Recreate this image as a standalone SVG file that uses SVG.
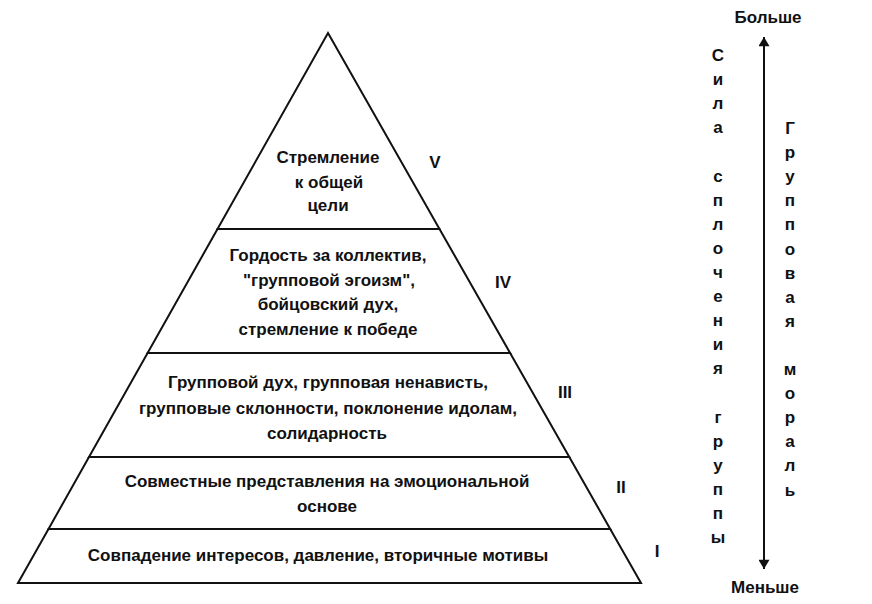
<svg xmlns="http://www.w3.org/2000/svg" width="872" height="604" viewBox="0 0 872 604">
<style>
  .tier { fill: #ffffff; stroke: #111; stroke-width: 2; stroke-linejoin: miter; }
  text { font-family: "Liberation Sans", Arial, sans-serif; font-weight: bold; font-size: 17px; fill: #111; }
  .c { text-anchor: middle; }
  .axis { stroke: #111; stroke-width: 2; fill: none; }
</style>
<defs>
  <marker id="ah" viewBox="0 0 10 12" refX="10" refY="6" markerUnits="userSpaceOnUse" markerWidth="12" markerHeight="11" orient="auto-start-reverse">
    <path d="M0,0 L10,6 L0,12 z" fill="#111"/>
  </marker>
</defs>
<rect width="872" height="604" fill="#ffffff"/>

<g id="level-I">
  <polygon class="tier" points="48.5,529 610.2,529 641,583 18,583"/>
  <text class="c" x="318" y="561">Совпадение интересов, давление, вторичные мотивы</text>
  <text class="c" x="657" y="557">I</text>
</g>
<g id="level-II">
  <polygon class="tier" points="89,457 569.3,457 610.2,529 48.5,529"/>
  <text class="c" x="327" y="487">Совместные представления на эмоциональной</text>
  <text class="c" x="327" y="512">основе</text>
  <text class="c" x="621" y="493">II</text>
</g>
<g id="level-III">
  <polygon class="tier" points="147.6,353 510.1,353 569.3,457 89,457"/>
  <text class="c" x="328" y="388">Групповой дух, групповая ненависть,</text>
  <text class="c" x="328" y="414">групповые склонности, поклонение идолам,</text>
  <text class="c" x="327" y="439">солидарность</text>
  <text class="c" x="565" y="398">III</text>
</g>
<g id="level-IV">
  <polygon class="tier" points="217.5,229 439.5,229 510.1,353 147.6,353"/>
  <text class="c" x="328" y="261">Гордость за коллектив,</text>
  <text class="c" x="329" y="286">"групповой эгоизм",</text>
  <text class="c" x="328" y="310">бойцовский дух,</text>
  <text class="c" x="328" y="335">стремление к победе</text>
  <text class="c" x="503" y="288">IV</text>
</g>
<g id="level-V">
  <polygon class="tier" points="328,33 439.5,229 217.5,229"/>
  <text class="c" x="328" y="163">Стремление</text>
  <text class="c" x="329" y="188">к общей</text>
  <text class="c" x="328" y="211">цели</text>
  <text class="c" x="435" y="168">V</text>
</g>

<g id="connectors">
  <line class="axis" x1="764" y1="37" x2="764" y2="569" marker-start="url(#ah)" marker-end="url(#ah)"/>
</g>

<g id="scale-labels">
  <text class="c" x="768" y="23">Больше</text>
  <text class="c" x="765" y="593">Меньше</text>
</g>

<g id="label-cohesion">
  <text class="c"><tspan x="718" y="61">С</tspan><tspan x="718" dy="24.1">и</tspan><tspan x="718" dy="24.1">л</tspan><tspan x="718" dy="24.1">а</tspan><tspan x="718" dy="48.2">с</tspan><tspan x="718" dy="24.1">п</tspan><tspan x="718" dy="24.1">л</tspan><tspan x="718" dy="24.1">о</tspan><tspan x="718" dy="24.1">ч</tspan><tspan x="718" dy="24.1">е</tspan><tspan x="718" dy="24.1">н</tspan><tspan x="718" dy="24.1">и</tspan><tspan x="718" dy="24.1">я</tspan><tspan x="718" dy="48.2">г</tspan><tspan x="718" dy="24.1">р</tspan><tspan x="718" dy="24.1">у</tspan><tspan x="718" dy="24.1">п</tspan><tspan x="718" dy="24.1">п</tspan><tspan x="718" dy="24.1">ы</tspan></text>
</g>
<g id="label-morale">
  <text class="c"><tspan x="790" y="134">Г</tspan><tspan x="790" dy="24.1">р</tspan><tspan x="790" dy="24.1">у</tspan><tspan x="790" dy="24.1">п</tspan><tspan x="790" dy="24.1">п</tspan><tspan x="790" dy="24.1">о</tspan><tspan x="790" dy="24.1">в</tspan><tspan x="790" dy="24.1">а</tspan><tspan x="790" dy="24.1">я</tspan><tspan x="790" dy="48.2">м</tspan><tspan x="790" dy="24.1">о</tspan><tspan x="790" dy="24.1">р</tspan><tspan x="790" dy="24.1">а</tspan><tspan x="790" dy="24.1">л</tspan><tspan x="790" dy="24.1">ь</tspan></text>
</g>
</svg>
